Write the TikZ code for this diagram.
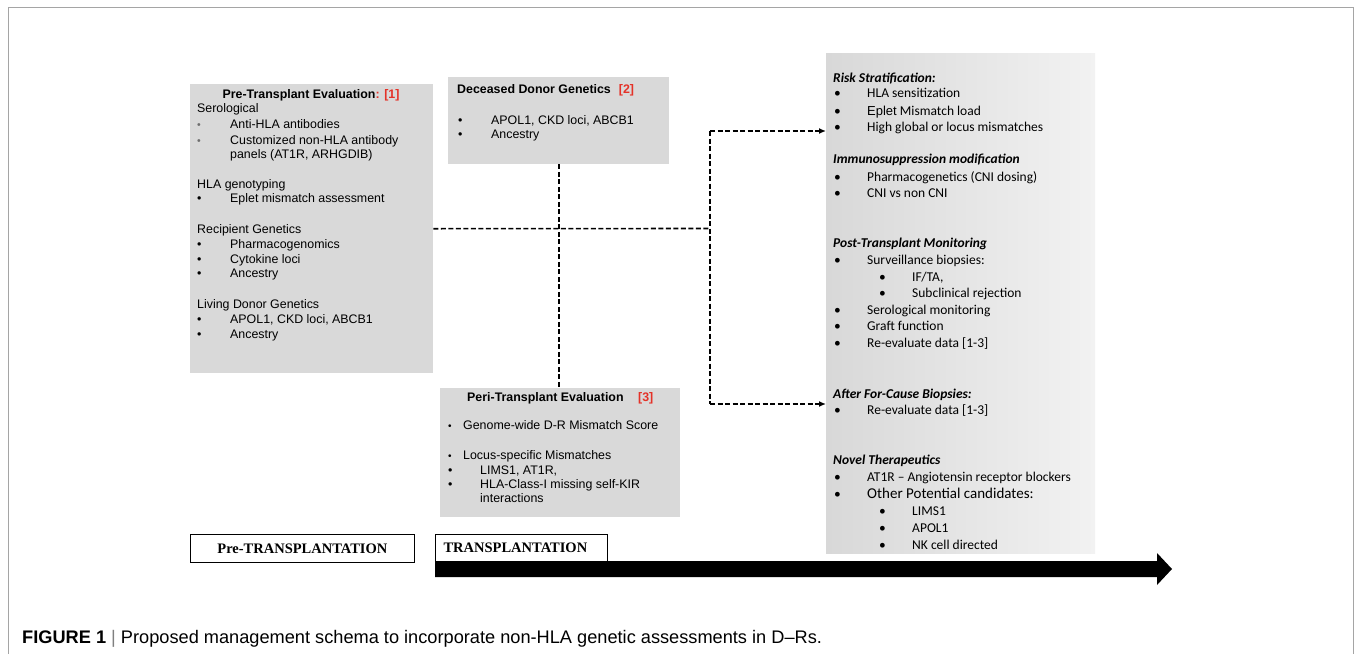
\documentclass[tikz,border=0pt]{standalone}
\usepackage{fontspec}
\setmainfont{Liberation Sans}
\newfontfamily\calfont{Carlito}
\newfontfamily\timesfont{Liberation Serif}
\newfontfamily\capfont{Liberation Sans}
\usetikzlibrary{arrows.meta}
\definecolor{boxgray}{RGB}{217,217,217}
\definecolor{refred}{RGB}{228,50,40}
\definecolor{framegray}{RGB}{165,165,165}
\definecolor{rleft}{RGB}{216,216,216}
\definecolor{rright}{RGB}{242,242,242}
\definecolor{bulgray}{RGB}{110,110,110}
\tikzset{
  arl/.style={font=\fontsize{12.4}{15}\selectfont, anchor=base west, inner sep=0pt},
  cal/.style={font=\calfont\fontsize{13.5}{16}\selectfont, anchor=base west, inner sep=0pt},
  calhead/.style={font=\calfont\fontsize{13.5}{16}\selectfont\bfseries\itshape, anchor=base west, inner sep=0pt},
  graybox/.style={fill=boxgray, draw=none, anchor=north west, inner sep=0pt},
  dashline/.style={draw=black, line width=1.6pt, dash pattern=on 5pt off 2.5pt},
  tlabel/.style={draw=black, line width=0.8pt, fill=white, anchor=north west, inner sep=0pt,
     font=\timesfont\bfseries\fontsize{14.5}{16}\selectfont},
}
\begin{document}
\begin{tikzpicture}[x=1pt,y=-1pt]
\useasboundingbox (0,0) rectangle (1354,654);
% outer frame
\draw[framegray, line width=1pt] (8,654) -- (8,7) -- (1353,7) -- (1353,654);

% boxes
\node[graybox, minimum width=243, minimum height=289] (pre) at (190,84) {};
\node[graybox, minimum width=221, minimum height=87] (ded) at (448,77) {};
\node[graybox, minimum width=240, minimum height=129] (peri) at (440,388) {};
\node[anchor=north west, inner sep=0pt, minimum width=269, minimum height=500,
      left color=rleft, right color=rright, draw=none] (risk) at (826,53) {};

% connectors
\coordinate (jm) at (710,228.5);
\coordinate (jt) at (710,131);
\coordinate (jb) at (710,404);
\draw[dashline] (pre.east) -- (jm);
\draw[dashline] (ded.south) -- (ded.south |- peri.north);
\draw[dashline] (jt) -- (jb);
\draw[dashline, -{Latex[length=7pt,width=6pt]}] (jt) -- (jt -| risk.west);
\draw[dashline, -{Latex[length=7pt,width=6pt]}] (jb) -- (jb -| risk.west);

% Pre-transplant evaluation box text
\node[arl, anchor=base] (p0) at (311,98.5) {\textbf{Pre-Transplant Evaluation\textcolor{refred}{: [1]}}};
\node[arl] (p1) at (197,112.5) {Serological};
\node[arl, text=bulgray, font=\fontsize{10.5}{10}\selectfont] (p2b) at (197,128.5) {•};
\node[arl] (p2) at (230,128.5) {Anti-HLA antibodies};
\node[arl, text=bulgray, font=\fontsize{10.5}{10}\selectfont] (p3b) at (197,144.5) {•};
\node[arl] (p3) at (230,144.5) {Customized non-HLA antibody};
\node[arl] (p4) at (230,158.5) {panels (AT1R, ARHGDIB)};
\node[arl] (p5) at (197,188.5) {HLA genotyping};
\node[arl] (p6b) at (197,202.5) {•};
\node[arl] (p6) at (230,202.5) {Eplet mismatch assessment};
\node[arl] (p7) at (197,233.5) {Recipient Genetics};
\node[arl] (p8b) at (197,248.5) {•};
\node[arl] (p8) at (230,248.5) {Pharmacogenomics};
\node[arl] (p9b) at (197,263.5) {•};
\node[arl] (p9) at (230,263.5) {Cytokine loci};
\node[arl] (p10b) at (197,277.5) {•};
\node[arl] (p10) at (230,277.5) {Ancestry};
\node[arl] (p11) at (197,308.5) {Living Donor Genetics};
\node[arl] (p12b) at (197,323.5) {•};
\node[arl] (p12) at (230,323.5) {APOL1, CKD loci, ABCB1};
\node[arl] (p13b) at (197,338.5) {•};
\node[arl] (p13) at (230,338.5) {Ancestry};

% Deceased donor box text
\node[arl] (d0) at (457,93.5) {\textbf{Deceased Donor Genetics\hspace{8pt}\textcolor{refred}{[2]}}};
\node[arl] (d1b) at (458,124.5) {•};
\node[arl] (d1) at (491,124.5) {APOL1, CKD loci, ABCB1};
\node[arl] (d2b) at (458,138.5) {•};
\node[arl] (d2) at (491,138.5) {Ancestry};

% Peri-transplant box text
\node[arl] (e0) at (467,401.5) {\textbf{Peri-Transplant Evaluation}};
\node[arl] (e0r) at (638,401.5) {\textbf{\textcolor{refred}{[3]}}};
\node[arl, font=\fontsize{10}{10}\selectfont] (e1b) at (448,429.5) {•};
\node[arl] (e1) at (463,429.5) {Genome-wide D-R Mismatch Score};
\node[arl, font=\fontsize{10}{10}\selectfont] (e2b) at (448,459.5) {•};
\node[arl] (e2) at (463,459.5) {Locus-specific Mismatches};
\node[arl] (e3b) at (448,474.5) {•};
\node[arl] (e3) at (480,474.5) {LIMS1, AT1R,};
\node[arl] (e4b) at (448,488.5) {•};
\node[arl] (e4) at (480,488.5) {HLA-Class-I missing self-KIR};
\node[arl] (e5) at (480,502.5) {interactions};

% Right box text
\node[calhead] (r0) at (833,82.5) {Risk Stratification:};
\node[cal] (r1b) at (834,97.5) {•};
\node[cal] (r1) at (867,97.5) {HLA sensitization};
\node[cal] (r2b) at (834,115.5) {•};
\node[cal] (r2) at (867,115.5) {{\rmfamily\fontsize{13}{16}\selectfont Eplet} Mismatch load};
\node[cal] (r3b) at (834,131.5) {•};
\node[cal] (r3) at (867,131.5) {High global or locus mismatches};
\node[calhead] (r4) at (833,163.5) {Immunosuppression modification};
\node[cal] (r5b) at (834,181.5) {•};
\node[cal] (r5) at (867,181.5) {Pharmacogenetics (CNI dosing)};
\node[cal] (r6b) at (834,197.5) {•};
\node[cal] (r6) at (867,197.5) {CNI vs non CNI};
\node[calhead] (r7) at (833,247.5) {Post-Transplant Monitoring};
\node[cal] (r8b) at (834,264.5) {•};
\node[cal] (r8) at (867,264.5) {Surveillance biopsies:};
\node[cal] (r9b) at (879,281.5) {•};
\node[cal] (r9) at (912,281.5) {IF/TA,};
\node[cal] (r10b) at (879,297.5) {•};
\node[cal] (r10) at (912,297.5) {Subclinical rejection};
\node[cal] (r11b) at (834,314.5) {•};
\node[cal] (r11) at (867,314.5) {Serological monitoring};
\node[cal] (r12b) at (834,330.5) {•};
\node[cal] (r12) at (867,330.5) {Graft function};
\node[cal] (r13b) at (834,347.5) {•};
\node[cal] (r13) at (867,347.5) {Re-evaluate data [1-3]};
\node[calhead] (r14) at (833,398.5) {After For-Cause Biopsies:};
\node[cal] (r15b) at (834,414.5) {•};
\node[cal] (r15) at (867,414.5) {Re-evaluate data [1-3]};
\node[calhead] (r16) at (833,464.5) {Novel Therapeutics};
\node[cal] (r17b) at (834,481.5) {•};
\node[cal] (r17) at (867,481.5) {AT1R – Angiotensin receptor blockers};
\node[cal] (r18b) at (834,498.5) {•};
\node[cal, font=\calfont\fontsize{15}{17}\selectfont] (r18) at (867,498.5) {Other Potential candidates:};
\node[cal] (r19b) at (879,515.5) {•};
\node[cal] (r19) at (912,515.5) {LIMS1};
\node[cal] (r20b) at (879,532.5) {•};
\node[cal] (r20) at (912,532.5) {APOL1};
\node[cal] (r21b) at (879,549.5) {•};
\node[cal] (r21) at (912,549.5) {NK cell directed};

% timeline
\fill[black] (435,561) -- (1157,561) -- (1157,553) -- (1172,569) -- (1157,585) -- (1157,577) -- (435,577) -- cycle;
\node[tlabel, minimum width=224, minimum height=28] (prel) at (190,534) {Pre-TRANSPLANTATION};
\node[tlabel, minimum width=172, minimum height=27] (trl) at (435,534) {\hspace{-12pt}TRANSPLANTATION};

% caption
\node[anchor=base west, inner sep=0pt, font=\capfont\fontsize{18.2}{20}\selectfont] (cap) at (22,643)
  {\textbf{FIGURE 1} {\color{gray}|} Proposed management schema to incorporate non-HLA genetic assessments in D–Rs.};
\end{tikzpicture}
\end{document}
